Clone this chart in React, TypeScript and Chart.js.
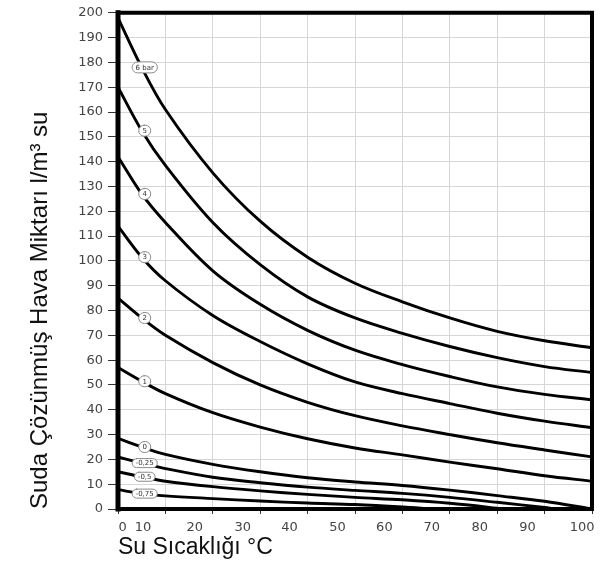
import React, { useEffect, useRef } from 'react';
import { Chart, registerables } from 'chart.js';

Chart.register(...registerables);

// Water temperature (°C) sample points
const temps = [0, 5, 10, 20, 30, 40, 50, 60, 70, 80, 90, 100];
// Dissolved air (l/m³ water) per pressure curve
const bar6 = [198, 178, 161, 135.5, 116, 101.5, 91, 83.5, 77, 71.6, 67.8, 65];
const bar5 = [170, 152.5, 138.5, 115.5, 98.5, 85.5, 77, 70.8, 65.5, 61, 57.4, 55];
const bar4 = [142, 127, 115.5, 96, 82.5, 72, 64, 58.2, 53.4, 49.2, 46.2, 44];
const bar3 = [114, 101.5, 92, 78, 67.5, 58.5, 51.2, 46.5, 42.5, 38.6, 35.4, 32.8];
const bar2 = [85, 77, 70, 59, 50, 43, 37.6, 33.5, 30, 26.7, 23.8, 21];
const bar1 = [57, 51.5, 46.5, 38.8, 33, 28.3, 24.6, 21.8, 18.9, 16.2, 13.4, 11.2];
const bar0 = [28.5, 25, 22, 18, 15, 12.6, 10.9, 9.5, 7.6, 5.4, 3.1, 0];

const tempsM025 = [0, 5, 10, 20, 30, 40, 50, 60, 70, 80, 90, 92];
const barM025 = [21, 18.5, 16.3, 12.8, 10.6, 8.8, 7.5, 6.3, 4.7, 2.7, 0.6, 0];
const tempsM05 = [0, 5, 10, 20, 30, 40, 50, 60, 70, 80, 81];
const barM05 = [15, 13, 11.2, 9, 7.3, 5.9, 4.7, 3.7, 2.3, 0.3, 0];
const tempsM075 = [0, 5, 10, 20, 30, 40, 50, 60, 66];
const barM075 = [7.8, 6.2, 5.3, 4.2, 3.2, 2.4, 1.8, 0.8, 0];

const curveLabels = ['6 bar', '5', '4', '3', '2', '1', '0', '-0,25', '-0,5', '-0,75'];

// x axis tick labels and where they sit (°C)
const xTickLabels = ['0', '10', '20', '30', '40', '50', '60', '70', '80', '90', '100'];
const xTickLabelAt = [1, 5.3, 16.2, 26.3, 36.2, 46.3, 56.2, 66.2, 76.3, 86.4, 97.9];

const yTitle = 'Suda Çözünmüş Hava Miktarı l/m³ su';
const xTitle = 'Su Sıcaklığı °C';

const seriesSets: [number[], number[]][] = [
  [temps, bar6],
  [temps, bar5],
  [temps, bar4],
  [temps, bar3],
  [temps, bar2],
  [temps, bar1],
  [temps, bar0],
  [tempsM025, barM025],
  [tempsM05, barM05],
  [tempsM075, barM075],
];

const frameAndLabels = {
  id: 'frameAndLabels',
  afterDatasetsDraw(chart: any) {
    const { ctx, chartArea } = chart;
    const { left, top, right, bottom } = chartArea;
    ctx.save();
    ctx.strokeStyle = '#000';
    ctx.lineCap = 'square';
    ctx.lineWidth = 4;
    ctx.beginPath();
    ctx.moveTo(left, top);
    ctx.lineTo(right, top);
    ctx.lineTo(right, bottom);
    ctx.lineTo(left, bottom);
    ctx.stroke();
    ctx.lineWidth = 5;
    ctx.beginPath();
    ctx.moveTo(left, top);
    ctx.lineTo(left, bottom);
    ctx.stroke();

    // curve labels
    chart.data.datasets.forEach((ds: any, i: number) => {
      const meta = chart.getDatasetMeta(i);
      const pt = meta.data[1];
      if (!pt) return;
      const text = ds.label as string;
      ctx.font = '7px "DejaVu Sans"';
      const tw = ctx.measureText(text).width;
      const w = Math.max(tw + 7, 12);
      const h = i >= 7 ? 9 : 11;
      const x = pt.x + 3;
      const y = pt.y;
      ctx.beginPath();
      ctx.fillStyle = '#fff';
      ctx.strokeStyle = '#8a8a8a';
      ctx.lineWidth = 1;
      (ctx as any).roundRect(x - w / 2, y - h / 2, w, h, h / 2);
      ctx.fill();
      ctx.stroke();
      ctx.fillStyle = '#333';
      ctx.textAlign = 'center';
      ctx.textBaseline = 'middle';
      ctx.fillText(text, x, y + 0.5);
    });
    ctx.restore();
  },
};

export default function App() {
  const ref = useRef<HTMLCanvasElement>(null);

  useEffect(() => {
    if (!ref.current) return;
    const datasets = seriesSets.map(([xs, ys], i) => ({
      label: curveLabels[i],
      data: xs.map((x, j) => ({ x, y: ys[j] })),
      borderColor: '#000',
      borderWidth: 2.9,
      pointRadius: 0,
      fill: false,
      tension: 0.35,
      xAxisID: 'x',
      yAxisID: 'y',
    }));

    const chart = new Chart(ref.current, {
      type: 'line',
      data: { datasets },
      options: {
        animation: false,
        responsive: false,
        layout: { padding: { top: 12, right: 9, bottom: 0, left: 0 } },
        plugins: { legend: { display: false }, tooltip: { enabled: false } },
        scales: {
          x: {
            type: 'linear',
            position: 'bottom',
            min: 0,
            max: 100,
            ticks: { display: false, stepSize: 10 },
            grid: { color: '#d6d6d6', lineWidth: 1, tickColor: '#333', tickLength: 5, drawTicks: true },
            border: { display: false },
            afterFit: (s: any) => {
              s.height = 3;
            },
          },
          xl: {
            type: 'linear',
            position: 'bottom',
            min: 0,
            max: 100,
            grid: { display: false },
            border: { display: false },
            afterBuildTicks: (s: any) => {
              s.ticks = xTickLabelAt.map((v) => ({ value: v }));
            },
            ticks: {
              autoSkip: false,
              maxRotation: 0,
              padding: 0,
              color: '#444',
              font: { family: 'DejaVu Sans', size: 13 },
              callback: (_v: any, i: number) => xTickLabels[i],
            },
            title: {
              display: true,
              text: xTitle,
              align: 'start',
              color: '#111',
              font: { family: 'Liberation Sans', size: 23 },
              padding: { top: 0, bottom: 10 },
            },
            afterFit: (s: any) => {
              s.height = 59;
            },
          },
          y: {
            type: 'linear',
            min: 0,
            max: 200,
            ticks: {
              stepSize: 10,
              padding: 5,
              color: '#444',
              font: { family: 'DejaVu Sans', size: 13 },
            },
            grid: { color: '#d6d6d6', lineWidth: 1, tickColor: '#333', tickLength: 10 },
            border: { display: false },
            title: {
              display: true,
              text: yTitle,
              align: 'start',
              color: '#111',
              font: { family: 'Liberation Sans', size: 24 },
              padding: { top: 26, bottom: 0 },
            },
            afterFit: (s: any) => {
              s.width = 118;
            },
          },
        },
      } as any,
      plugins: [frameAndLabels],
    });
    return () => chart.destroy();
  }, []);

  return (
    <div style={{ position: 'absolute', left: 0, top: 0, width: 601, height: 571, background: '#fff' }}>
      <canvas ref={ref} width={601} height={571} />
    </div>
  );
}
